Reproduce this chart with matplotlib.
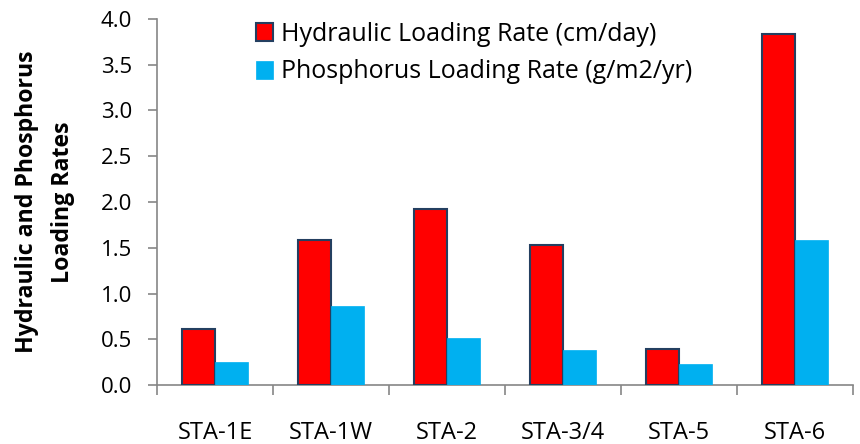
import matplotlib
matplotlib.use("Agg")
import matplotlib.pyplot as plt
import numpy as np
from matplotlib.ticker import FixedLocator, NullFormatter

plt.rcParams['font.family'] = ['Open Sans', 'DejaVu Sans']

categories = ["STA-1E", "STA-1W", "STA-2", "STA-3/4", "STA-5", "STA-6"]
hydraulic = [0.61, 1.58, 1.92, 1.53, 0.39, 3.84]
phosphorus = [0.25, 0.86, 0.51, 0.38, 0.23, 1.58]
yticks = [0.0, 0.5, 1.0, 1.5, 2.0, 2.5, 3.0, 3.5, 4.0]

W, H = 860, 444
fig = plt.figure(figsize=(W/100, H/100), dpi=100)
ax = fig.add_axes([157/W, 1 - 385/H, (853 - 157)/W, (385 - 19)/H])

x = np.arange(len(categories))
w = 0.285
ax.bar(x - w/2, hydraulic, w, color='#FF0000', edgecolor='#243F60', linewidth=1.5,
       label='Hydraulic Loading Rate (cm/day)', zorder=3)
ax.bar(x + w/2, phosphorus, w, color='#00B0F0', edgecolor='#00B0F0', linewidth=0.5,
       label='Phosphorus Loading Rate (g/m2/yr)', zorder=3)

ax.set_xlim(-0.5, len(categories) - 0.5)
ax.set_ylim(0, 4.0)
ax.set_yticks(yticks)
ax.set_yticklabels([f"{v:.1f}" for v in yticks], fontsize=16)

ax.set_xticks(x)
ax.set_xticklabels(categories, fontsize=17)
ax.tick_params(axis='x', which='major', length=0, pad=26)
ax.xaxis.set_minor_locator(FixedLocator(np.arange(-0.5, len(categories), 1.0)))
ax.xaxis.set_minor_formatter(NullFormatter())
ax.tick_params(axis='x', which='minor', length=7, width=1.2, color='#868686', direction='out')
ax.tick_params(axis='y', length=6.5, width=1.2, color='#868686', direction='out', pad=11.5)

for s in ['top', 'right']:
    ax.spines[s].set_visible(False)
for s in ['left', 'bottom']:
    ax.spines[s].set_color('#868686')
    ax.spines[s].set_linewidth(1.2)

fig.text(45/W, 1 - 202/H, "Hydraulic and Phosphorus\nLoading Rates", rotation=90,
         ha='center', va='center', fontsize=16.7, fontweight='bold', linespacing=1.65,
         multialignment='center')

leg = ax.legend(loc='upper left', bbox_to_anchor=(256/W, 1 - 22/H), bbox_transform=fig.transFigure,
                frameon=False, fontsize=18, borderpad=0, borderaxespad=0,
                handlelength=0.68, handleheight=0.75, handletextpad=0.33, labelspacing=0.5)

fig.savefig("out.png", dpi=100)
